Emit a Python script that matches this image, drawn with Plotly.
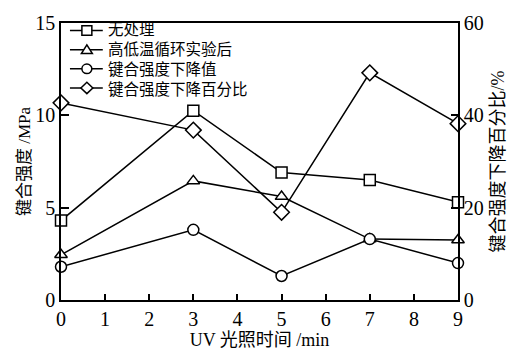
import plotly.graph_objects as go

# UV exposure time (min)
uv_time = [0, 3, 5, 7, 9]

# Bond strength (MPa)
untreated = [4.3, 10.25, 6.9, 6.5, 5.3]
after_cycling = [2.45, 6.45, 5.6, 3.3, 3.25]
strength_drop = [1.8, 3.8, 1.3, 3.3, 2.0]

# Bond strength drop percentage (%)
drop_percent = [42.7, 36.8, 19.0, 49.2, 38.2]

series_names = ["无处理", "高低温循环实验后", "键合强度下降值", "键合强度下降百分比"]
series_symbols = ["square", "triangle", "circle", "diamond"]

FONT = '"Liberation Serif", "Times New Roman", "Noto Sans CJK SC", serif'

W, H = 517, 354
L, R, T, B = 61, 57, 15, 47
PW, PH = W - L - R, H - T - B


def px(x):
    return (x - L) / PW


def py(y):
    return (H - B - y) / PH


fig = go.Figure()

marker_sym = {"square": "square", "triangle": "triangle-up",
              "circle": "circle", "diamond": "diamond"}


def add_series(y, name, symbol, axis="y", size=11):
    fig.add_trace(go.Scatter(
        x=uv_time, y=y, name=name, yaxis=axis,
        mode="lines+markers",
        line=dict(color="black", width=1.5),
        marker=dict(symbol=marker_sym[symbol], size=size, color="white",
                    line=dict(color="black", width=1.5)),
        cliponaxis=False, showlegend=False,
    ))


add_series(untreated, series_names[0], "square")
add_series(after_cycling, series_names[1], "triangle")
add_series(strength_drop, series_names[2], "circle")
add_series(drop_percent, series_names[3], "diamond", axis="y2", size=12)

# Legend block in the upper-left corner: one multi-line text + symbol shapes
LEG_FS = 15.5
line_h = LEG_FS * 1.3
first_row = 23
row_y = [first_row + i * line_h for i in range(len(series_names))]
shapes = []
x0, x1, xm, r = 70, 103, 87, 5
for sym, yy in zip(series_symbols, row_y):
    shapes.append(dict(type="line", xref="paper", yref="paper",
                       x0=px(x0), x1=px(x1), y0=py(yy), y1=py(yy),
                       line=dict(color="black", width=1.5)))
    style = dict(xref="paper", yref="paper", fillcolor="white",
                 line=dict(color="black", width=1.5), layer="above")
    if sym == "square":
        shapes.append(dict(type="rect", x0=px(xm - r), x1=px(xm + r),
                           y0=py(yy + r), y1=py(yy - r), **style))
    elif sym == "circle":
        shapes.append(dict(type="circle", x0=px(xm - r), x1=px(xm + r),
                           y0=py(yy + r), y1=py(yy - r), **style))
    elif sym == "triangle":
        pts = [(xm - r - 0.5, yy + r - 1), (xm + r + 0.5, yy + r - 1), (xm, yy - r)]
        path = "M " + " L ".join(f"{px(a):.5f},{py(b):.5f}" for a, b in pts) + " Z"
        shapes.append(dict(type="path", path=path, **style))
    else:
        pts = [(xm - r - 1, yy), (xm, yy - r - 1), (xm + r + 1, yy), (xm, yy + r + 1)]
        path = "M " + " L ".join(f"{px(a):.5f},{py(b):.5f}" for a, b in pts) + " Z"
        shapes.append(dict(type="path", path=path, **style))

legend_center = (row_y[0] + row_y[-1]) / 2
annotations = [dict(xref="paper", yref="paper", x=px(107), y=py(legend_center),
                    xanchor="left", yanchor="middle", align="left",
                    showarrow=False, borderpad=0,
                    text="<br>".join(series_names),
                    font=dict(size=LEG_FS, family=FONT))]

fig.update_layout(
    width=W, height=H,
    margin=dict(l=L, r=R, t=T, b=B),
    plot_bgcolor="white", paper_bgcolor="white",
    font=dict(family=FONT, size=17, color="black"),
    showlegend=False,
    shapes=shapes,
    annotations=annotations,
    xaxis=dict(
        range=[0, 9], tickmode="array", tickvals=list(range(10)),
        ticks="inside", ticklen=6, tickwidth=1.5, tickcolor="black",
        showline=True, linecolor="black", linewidth=1.5, mirror=True,
        showgrid=False, zeroline=False,
        tickfont=dict(size=20),
        title=dict(text="UV 光照时间 /min", font=dict(size=18), standoff=0),
    ),
    yaxis=dict(
        range=[0, 15], tickvals=[0, 5, 10, 15],
        ticks="inside", ticklen=8, tickwidth=1.5, tickcolor="black",
        showline=True, linecolor="black", linewidth=1.5,
        showgrid=False, zeroline=False,
        tickfont=dict(size=20),
        title=dict(text="键合强度 /MPa", font=dict(size=17), standoff=0),
    ),
    yaxis2=dict(
        range=[0, 60], tickvals=[0, 20, 40, 60],
        overlaying="y", side="right",
        ticks="inside", ticklen=7, tickwidth=1.5, tickcolor="black",
        showline=True, linecolor="black", linewidth=1.5,
        showgrid=False, zeroline=False,
        tickfont=dict(size=20),
        title=dict(text="键合强度下降百分比/%", font=dict(size=18), standoff=9),
    ),
)

fig.write_html("out.html")
